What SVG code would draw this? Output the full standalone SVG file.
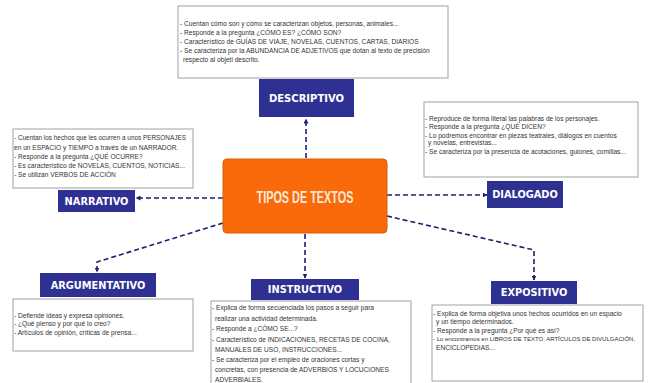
<svg xmlns="http://www.w3.org/2000/svg" width="651" height="383" viewBox="0 0 651 383">
<defs>
<style>
.box{fill:#fff;stroke:#8a8a8a;stroke-width:0.8}
.tb{fill:#2e3192}
.tt{font-family:"DejaVu Sans",sans-serif;font-weight:bold;font-size:9.8px;fill:#fff;text-anchor:middle;dominant-baseline:central}
.body{font-family:"Liberation Sans",Arial,sans-serif;font-size:6.6px;fill:#333}
.con{fill:none;stroke:#1f2070;stroke-width:1.6;stroke-dasharray:5,3}
</style>
<marker id="ah" viewBox="0 0 10 10" refX="9" refY="5" markerWidth="5" markerHeight="5" orient="auto" markerUnits="userSpaceOnUse">
<path d="M0,0 L10,5 L0,10 z" fill="#1f2070"/>
</marker>
</defs>
<rect width="651" height="383" fill="#fff"/>

<g id="connectors">
<path class="con" d="M306,158 L306,119" marker-end="url(#ah)"/>
<path class="con" d="M223,198 L136,198" marker-end="url(#ah)"/>
<path class="con" d="M223,223 L97,262 L97,272" marker-end="url(#ah)"/>
<path class="con" d="M387,195 L487,195" marker-end="url(#ah)"/>
<path class="con" d="M387,216 L534,250 L534,280" marker-end="url(#ah)"/>
<path class="con" d="M305,234 L305,278" marker-end="url(#ah)"/>
</g>

<g id="center">
<rect x="223" y="159" width="164" height="74" rx="4" fill="#fa6a0a" stroke="#d95a08" stroke-width="1"/>
<text x="305" y="197" font-family="Liberation Sans,Arial,sans-serif" font-size="16" font-weight="bold" fill="#fde9d9" text-anchor="middle" dominant-baseline="central" textLength="97" lengthAdjust="spacingAndGlyphs">TIPOS DE TEXTOS</text>
</g>

<g id="descriptivo">
<rect class="box" x="178" y="6" width="270" height="72"/>
<text class="body" x="180" y="25.5">-  Cuentan cómo son y cómo se caracterizan objetos, personas, animales...</text>
<text class="body" x="180" y="34.5">- Responde a la pregunta ¿CÓMO ES? ¿CÓMO SON?</text>
<text class="body" x="180" y="43.5">- Característico de GUÍAS DE VIAJE, NOVELAS, CUENTOS, CARTAS, DIARIOS</text>
<text class="body" x="180" y="52.5">- Se caracteriza por la ABUNDANCIA DE ADJETIVOS que dotan al texto de precisión</text>
<text class="body" x="183" y="61.5">respecto al objeti descrito.</text>
<rect class="tb" x="259" y="79" width="95" height="38"/>
<text class="tt" x="306.5" y="98" style="font-size:10px">DESCRIPTIVO</text>
</g>

<g id="narrativo">
<rect class="box" x="13" y="129" width="180" height="59"/>
<text class="body" x="14" y="140" style="font-size:6.4px">- Cuentan los hechos que les ocurren a unos PERSONAJES</text>
<text class="body" x="14" y="149.5">en un ESPACIO y TIEMPO a través de un NARRADOR.</text>
<text class="body" x="14" y="159">- Responde a la pregunta ¿QUÉ OCURRE?</text>
<text class="body" x="14" y="168">- Es característico de NOVELAS, CUENTOS, NOTICIAS...</text>
<text class="body" x="14" y="177">- Se utilizan VERBOS DE ACCIÓN</text>
<rect class="tb" x="58" y="190" width="77" height="22"/>
<text class="tt" x="96.5" y="201">NARRATIVO</text>
</g>

<g id="dialogado">
<rect class="box" x="424" y="102" width="214" height="75"/>
<text class="body" x="425" y="121">- Reproduce de forma literal las palabras de los personajes.</text>
<text class="body" x="425" y="129">- Responde a la pregunta ¿QUÉ DICEN?</text>
<text class="body" x="425" y="137.5">- Lo podremos encontrar en piezas teatrales, diálogos en cuentos</text>
<text class="body" x="428" y="145">y novelas, entrevistas...</text>
<text class="body" x="425" y="153.5">- Se caracteriza por la presencia de acotaciones, guiones, comillas...</text>
<rect class="tb" x="487" y="181" width="76" height="27"/>
<text class="tt" x="525" y="194.5">DIALOGADO</text>
</g>

<g id="argumentativo">
<rect class="tb" x="40" y="273" width="116" height="24"/>
<text class="tt" x="98" y="285">ARGUMENTATIVO</text>
<rect class="box" x="13" y="299" width="180" height="52"/>
<text class="body" x="14" y="317.5">- Defiende ideas y expresa opiniones.</text>
<text class="body" x="14" y="326">- ¿Qué pienso y por qué lo creo?</text>
<text class="body" x="14" y="334.5">- Artículos de opinión, críticas de prensa...</text>
</g>

<g id="instructivo">
<rect class="tb" x="251" y="279" width="108" height="21"/>
<text class="tt" x="305" y="289.5">INSTRUCTIVO</text>
<rect class="box" x="211" y="301" width="200" height="90"/>
<text class="body" x="212" y="309.5">- Explica de forma secuenciada los pasos a seguir para</text>
<text class="body" x="215" y="320.5">realizar una actividad determinada.</text>
<text class="body" x="212" y="331">- Responde a ¿CÓMO SE...?</text>
<text class="body" x="212" y="342">- Característico de INDICACIONES, RECETAS DE COCINA,</text>
<text class="body" x="215" y="352">MANUALES DE USO, INSTRUCCIONES...</text>
<text class="body" x="212" y="362">- Se caracteriza por el empleo de oraciones cortas y</text>
<text class="body" x="215" y="372">concretas, con presencia de ADVERBIOS Y LOCUCIONES</text>
<text class="body" x="215" y="381.5">ADVERBIALES.</text>
</g>

<g id="expositivo">
<rect class="tb" x="491" y="281" width="86" height="23"/>
<text class="tt" x="534" y="292.5">EXPOSITIVO</text>
<rect class="box" x="432" y="305" width="211" height="76"/>
<text class="body" x="433" y="315.5">- Explica de forma objetiva unos hechos ocurridos en un espacio</text>
<text class="body" x="436" y="323.5">y un tiempo determinados.</text>
<text class="body" x="433" y="332.5">- Responde a la pregunta ¿Por qué es así?</text>
<text class="body" x="433" y="341" style="font-size:6px">- Lo encontramos en LIBROS DE TEXTO, ARTÍCULOS DE DIVULGACIÓN,</text>
<text class="body" x="436" y="349.5">ENCICLOPEDIAS...</text>
</g>
</svg>
